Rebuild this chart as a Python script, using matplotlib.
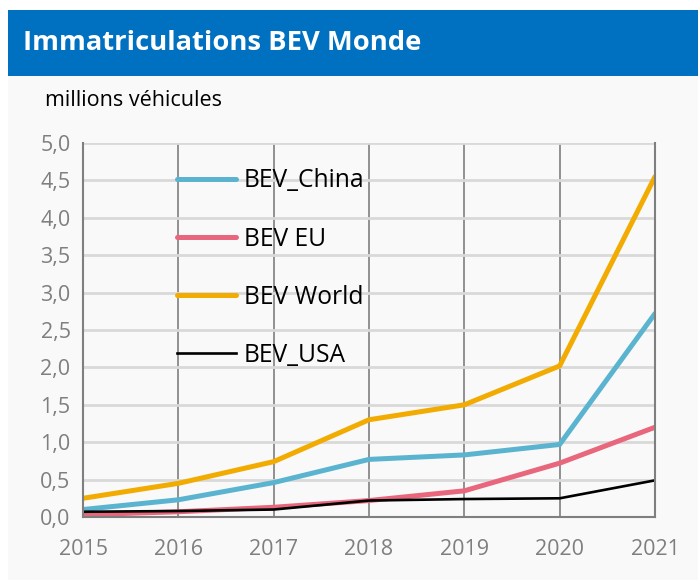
import matplotlib.pyplot as plt
from matplotlib.patches import Rectangle
from matplotlib.ticker import FuncFormatter

# Data (millions of vehicles)
years = [2015, 2016, 2017, 2018, 2019, 2020, 2021]
bev_china = [0.10, 0.23, 0.46, 0.77, 0.83, 0.97, 2.72]
bev_eu = [0.03, 0.07, 0.13, 0.22, 0.35, 0.72, 1.20]
bev_world = [0.25, 0.45, 0.74, 1.30, 1.50, 2.02, 4.55]
bev_usa = [0.07, 0.08, 0.10, 0.22, 0.24, 0.25, 0.49]

W, H = 698, 580
plt.rcParams['font.family'] = ['Open Sans', 'DejaVu Sans']
fig = plt.figure(figsize=(W / 100, H / 100), dpi=100)
fig.patch.set_facecolor("white")

# background panel and header band
fig.add_artist(Rectangle((8 / W, 0), 1 - 8 / W, 1 - 76 / H, transform=fig.transFigure,
                         facecolor="#f9f9f9", edgecolor="none", zorder=-10))
fig.add_artist(Rectangle((8 / W, 1 - 76 / H), 1 - 8 / W, 66 / H, transform=fig.transFigure,
                         facecolor="#0070c0", edgecolor="none", zorder=-10))
fig.text(23 / W, 1 - 43 / H, "Immatriculations BEV Monde", color="white", fontsize=19.7,
         fontweight="bold", va="center", ha="left")
fig.text(45 / W, 1 - 101 / H, "millions véhicules", color="black", fontsize=15.5,
         va="center", ha="left")

x0, x1, ytop, ybot = 83, 655, 143, 517
ax = fig.add_axes([x0 / W, 1 - ybot / H, (x1 - x0) / W, (ybot - ytop) / H])
ax.set_facecolor("#f9f9f9")

ax.plot(years, bev_china, color="#5bb4cf", lw=3.6, label="BEV_China", solid_capstyle="round")
ax.plot(years, bev_eu, color="#e8677d", lw=3.6, label="BEV EU", solid_capstyle="round")
ax.plot(years, bev_world, color="#f2ab00", lw=3.6, label="BEV World", solid_capstyle="round")
ax.plot(years, bev_usa, color="black", lw=1.9, label="BEV_USA")

ax.set_xlim(2015, 2021)
ax.set_ylim(0, 5)
ax.set_xticks(years)
ax.set_yticks([i * 0.5 for i in range(11)])
ax.yaxis.set_major_formatter(FuncFormatter(lambda v, p: f"{v:.1f}".replace(".", ",")))
ax.tick_params(length=0, labelsize=15.5, colors="#7f7f7f", pad=9)
ax.tick_params(axis="x", pad=16)
ax.grid(axis="y", color="#d9d9d9", lw=2)
ax.grid(axis="x", color="#7f7f7f", lw=1.2)
ax.set_axisbelow(True)
ax.spines["top"].set_visible(False)
for s in ["left", "right", "bottom"]:
    ax.spines[s].set_color("#7f7f7f")
    ax.spines[s].set_linewidth(1.5)

leg = ax.legend(loc="upper left", bbox_to_anchor=(0.126, 0.991), frameon=False, fontsize=17.7,
                labelspacing=1.35, handlelength=2.4, handletextpad=0.3)

fig.savefig("out.png", dpi=100, facecolor=fig.get_facecolor())
